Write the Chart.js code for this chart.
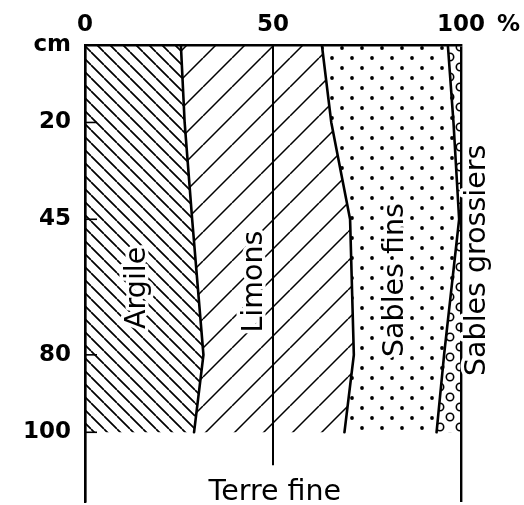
<!DOCTYPE html>
<html>
<head>
<meta charset="utf-8">
<script src="https://cdn.jsdelivr.net/npm/chart.js@4/dist/chart.umd.min.js"></script>
<style>
  html, body { margin: 0; padding: 0; background: #fff; }
  #wrap { width: 524px; height: 505px; }
</style>
</head>
<body>
<div id="wrap"><canvas id="c" width="524" height="505"></canvas></div>
<script>
// ---- data ----
const depthCm = [0, 20, 45, 80, 100];                 // sampling depths (cm)
const argile = [25.5, 26.5, 28.5, 31.5, 29];          // clay %
const limons = [37.5, 39, 42, 40, 40];                // silt %
const sablesFins = [33.5, 32.5, 29, 24, 24.5];        // fine sand %
const sablesGrossiers = [3.5, 2, 0.5, 4.5, 6.5];      // coarse sand %
const fractionNames = ['Argile', 'Limons', 'Sables fins', 'Sables grossiers'];
const xTicks = [0, 50, 100];
const yTicks = [0, 20, 45, 80, 100];
const yTickLabels = ['cm', '20', '45', '80', '100'];
const xUnit = '%';
const bottomLabel = 'Terre fine';
const midLineX = [50, 50];
const midLineDepth = [0, 108.5];

// ---- build cumulative boundaries ----
const fractions = [argile, limons, sablesFins, sablesGrossiers];
const cum = [depthCm.map(() => 0)];
fractions.forEach((f, k) => cum.push(depthCm.map((d, i) => cum[k][i] + f[i])));

const canvas = document.getElementById('c');
const ctx = canvas.getContext('2d');

function makePattern(w, h, draw) {
  const c = document.createElement('canvas');
  c.width = w; c.height = h;
  const g = c.getContext('2d');
  draw(g, w, h);
  return ctx.createPattern(c, 'repeat');
}
const patArgile = makePattern(13, 13, (g, s) => {
  g.strokeStyle = '#000'; g.lineWidth = 1.7;
  g.beginPath();
  for (const o of [-s, 0, s]) { g.moveTo(o, 0); g.lineTo(o + s, s); }
  g.stroke();
});
const patLimons = makePattern(29, 29, (g, s) => {
  g.strokeStyle = '#000'; g.lineWidth = 1.5;
  g.beginPath();
  for (const o of [-s, 0, s]) { g.moveTo(o, s); g.lineTo(o + s, 0); }
  g.stroke();
});
const patFins = makePattern(20, 20, (g) => {
  g.fillStyle = '#000';
  for (const [cx, cy] of [[12, 18], [2, 8], [22, 8], [12, -2]]) {
    g.beginPath(); g.arc(cx, cy, 1.9, 0, Math.PI * 2); g.fill();
  }
});
const patGrossiers = makePattern(20, 20, (g) => {
  g.strokeStyle = '#000'; g.lineWidth = 1.6;
  for (const [cx, cy] of [[10, 17], [10, -3], [0, 7], [20, 7]]) {
    g.beginPath(); g.arc(cx, cy, 3.7, 0, Math.PI * 2); g.stroke();
  }
});
const patterns = [patArgile, patLimons, patFins, patGrossiers];

const datasets = [];
// filled regions (polygons: left boundary downwards, right boundary upwards)
fractions.forEach((f, k) => {
  const pts = [];
  depthCm.forEach((d, i) => pts.push({ x: cum[k][i], y: d }));
  for (let i = depthCm.length - 1; i >= 0; i--) pts.push({ x: cum[k + 1][i], y: depthCm[i] });
  datasets.push({
    label: fractionNames[k], data: pts, fill: 'shape',
    backgroundColor: patterns[k], borderWidth: 0, borderColor: 'rgba(0,0,0,0)',
    pointRadius: 0, tension: 0
  });
});
// boundary lines
for (let k = 1; k <= 3; k++) {
  datasets.push({
    label: 'limite ' + k, data: depthCm.map((d, i) => ({ x: cum[k][i], y: d })),
    fill: false, borderColor: '#000', borderWidth: 2.6, pointRadius: 0, tension: 0,
    borderJoinStyle: 'round', borderCapStyle: 'round'
  });
}
// 50 % reference line
datasets.push({
  label: '50', data: midLineX.map((v, i) => ({ x: v, y: midLineDepth[i] })),
  fill: false, borderColor: '#000', borderWidth: 2, pointRadius: 0
});

const FONT = 'DejaVu Sans';
const labelPlugin = {
  id: 'labelPlugin',
  afterDraw(chart) {
    const { ctx: c, scales: { x, y } } = chart;
    c.save();
    // inward ticks on the depth axis
    c.strokeStyle = '#000'; c.lineWidth = 1.6;
    yTicks.forEach(v => {
      if (v === 0) return;
      const py = y.getPixelForValue(v);
      c.beginPath(); c.moveTo(x.left, py); c.lineTo(x.left + 12, py); c.stroke();
    });
    // unit label next to 100
    c.fillStyle = '#000';
    c.font = 'bold 23px "' + FONT + '"';
    c.textAlign = 'left'; c.textBaseline = 'middle';
    c.fillText(xUnit, x.getPixelForValue(100) + 36, x.bottom - 20);
    // rotated fraction names
    const pos = [[14.0, 62.7], [45.05, 61.1], [82.7, 60.7], [104.5, 55.6]];
    c.font = '28.5px "' + FONT + '"';
    c.textAlign = 'center'; c.textBaseline = 'middle';
    fractionNames.forEach((name, k) => {
      const px = x.getPixelForValue(pos[k][0]);
      const py = y.getPixelForValue(pos[k][1]);
      c.save();
      c.translate(px, py);
      c.rotate(-Math.PI / 2);
      c.lineJoin = 'round';
      c.strokeStyle = '#fff'; c.lineWidth = 7;
      c.strokeText(name, 0, 0);
      c.fillStyle = '#000';
      c.fillText(name, 0, 0);
      c.restore();
    });
    // bottom label
    c.textAlign = 'center'; c.textBaseline = 'alphabetic';
    c.fillText(bottomLabel, x.getPixelForValue(50.5), y.getPixelForValue(117.4));
    c.restore();
  }
};

new Chart(ctx, {
  type: 'line',
  data: { datasets },
  options: {
    responsive: false,
    animation: false,
    events: [],
    layout: { padding: { left: 0, right: 63, top: 0, bottom: 3 } },
    plugins: { legend: { display: false }, tooltip: { enabled: false } },
    scales: {
      x: {
        type: 'linear', position: 'top', min: 0, max: 100,
        afterBuildTicks: s => { s.ticks = xTicks.map(v => ({ value: v })); },
        afterFit: s => { s.height = 45; s.paddingLeft = 0; s.paddingRight = 0; },
        ticks: {
          padding: 6, color: '#000', maxRotation: 0, autoSkip: false,
          font: { family: FONT, size: 23, weight: 'bold' }
        },
        grid: {
          drawTicks: false, z: 1, lineWidth: 2.4,
          color: c => (c.tick && c.tick.value === 50) ? 'rgba(0,0,0,0)' : '#000'
        },
        border: { display: true, color: '#000', width: 2.6, z: 1 }
      },
      y: {
        type: 'linear', reverse: true, min: 0, max: 118,
        afterBuildTicks: s => { s.ticks = yTicks.map(v => ({ value: v })); },
        afterFit: s => { s.width = 85; s.paddingTop = 0; s.paddingBottom = 0; },
        ticks: {
          padding: 14, color: '#000', autoSkip: false,
          font: { family: FONT, size: 23, weight: 'bold' },
          callback: v => yTickLabels[yTicks.indexOf(v)]
        },
        grid: { display: false, drawTicks: false },
        border: { display: true, color: '#000', width: 2.4, z: 1 }
      }
    }
  },
  plugins: [labelPlugin]
});
</script>
</body>
</html>
